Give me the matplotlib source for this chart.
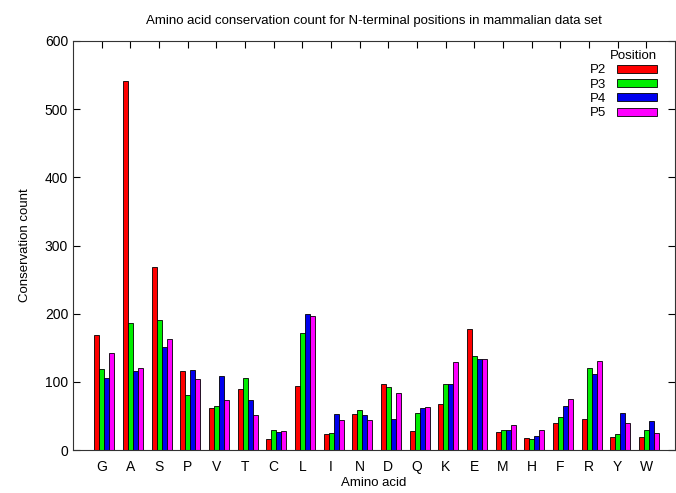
import matplotlib
matplotlib.use("Agg")
import matplotlib.pyplot as plt
import numpy as np

plt.rcParams['font.family'] = ['Liberation Sans', 'DejaVu Sans']

amino = ["G", "A", "S", "P", "V", "T", "C", "L", "I", "N",
         "D", "Q", "K", "E", "M", "H", "F", "R", "Y", "W"]
p2 = [168, 541, 269, 116, 61, 90, 16, 94, 24, 53, 97, 28, 67, 177, 26, 18, 39, 45, 19, 19]
p3 = [119, 187, 190, 81, 64, 105, 29, 171, 25, 59, 93, 55, 97, 138, 30, 16, 49, 121, 24, 29]
p4 = [105, 116, 151, 118, 109, 73, 26, 200, 53, 52, 46, 61, 97, 133, 29, 21, 64, 111, 55, 42]
p5 = [142, 121, 163, 104, 73, 51, 28, 197, 44, 44, 83, 63, 129, 133, 36, 29, 75, 131, 39, 25]

series = [("P2", p2, "#ff0000"), ("P3", p3, "#00ee00"),
          ("P4", p4, "#0000ee"), ("P5", p5, "#ff00ff")]

fig = plt.figure(figsize=(6.76, 4.93), dpi=100)
ax = fig.add_axes([73/676, 1 - 450/493, (675 - 73)/676, (450 - 41)/493])
ax.set_axisbelow(True)

x = np.arange(len(amino))
w = 0.175
for k, (name, vals, col) in enumerate(series):
    ax.bar(x + 0.09 + (k - 1.5) * w, vals, width=w, color=col,
           edgecolor="black", linewidth=0.6, label=name)

ax.set_xlim(-1, len(amino))
ax.set_ylim(0, 600)
ax.set_yticks(range(0, 601, 100))
ax.set_xticks(x)
ax.set_xticklabels(amino)
ax.tick_params(direction="in", top=True, right=True, length=5, labelsize=10, width=0.8)
ax.tick_params(axis="x", pad=7)
for s in ax.spines.values():
    s.set_linewidth(0.8)
    s.set_color("#333333")
    s.set_zorder(3)

ax.set_title("Amino acid conservation count for N-terminal positions in mammalian data set",
             fontsize=9.5, pad=12)
ax.set_xlabel("Amino acid", fontsize=9.5, labelpad=2)
ax.set_ylabel("Conservation count", fontsize=9.5, labelpad=10)

leg = ax.legend(title="Position", loc="upper right", bbox_to_anchor=(0.985, 1.0),
                markerfirst=False, frameon=False,
                fontsize=9.5, title_fontsize=9.5, handlelength=3.0, handleheight=0.55,
                labelspacing=0.17, borderaxespad=0.3, handletextpad=0.8)
leg._legend_box.align = "right"

fig.savefig("out.png", dpi=100)
